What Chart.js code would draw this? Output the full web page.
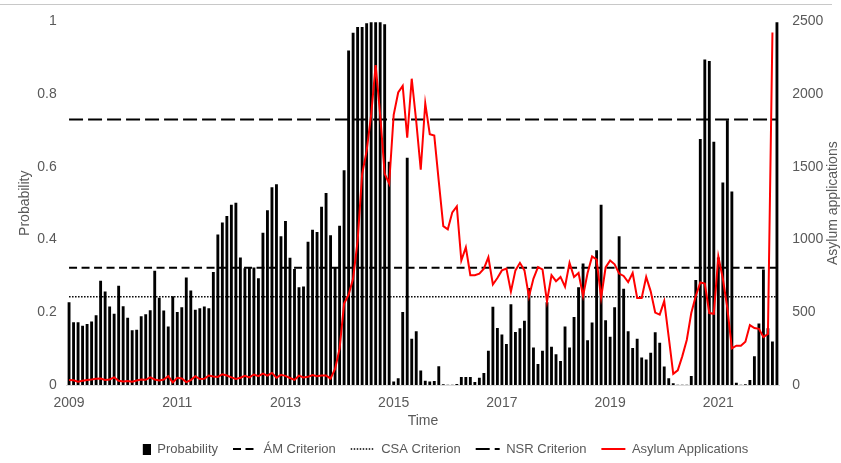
<!DOCTYPE html>
<html lang="en">
<head>
<meta charset="UTF-8">
<title>Probability and asylum applications</title>
<style>
    body {
        margin: 0;
        background: #fff;
    }
    .wrap {
        position: relative;
        width: 841px;
        height: 463px;
    }
    .topline {
        position: absolute;
        left: 0;
        top: 4px;
        width: 832px;
        height: 1px;
        background: #c8c8c8;
    }
</style>
</head>
<body>
<div class="wrap">
    <div class="topline"></div>
    <canvas id="chart"></canvas>
</div>

<script src="https://cdn.jsdelivr.net/npm/chart.js"></script>
<script>
    // monthly categories, Jan 2009 .. Feb 2022
    const startYear = 2009;
    const monthCount = 158;
    const months = Array.from({ length: monthCount }, (_, i) =>
        (startYear + Math.floor(i / 12)) + '-' + String(i % 12 + 1).padStart(2, '0'));

    const probability = [
        0.227, 0.172, 0.172, 0.162, 0.167, 0.174, 0.191, 0.286, 0.256, 0.215,
        0.195, 0.272, 0.216, 0.184, 0.150, 0.151, 0.188, 0.194, 0.205, 0.313,
        0.239, 0.204, 0.160, 0.243, 0.200, 0.213, 0.295, 0.259, 0.206, 0.210,
        0.215, 0.210, 0.310, 0.413, 0.446, 0.464, 0.495, 0.500, 0.350, 0.320,
        0.322, 0.322, 0.293, 0.418, 0.480, 0.543, 0.551, 0.408, 0.450, 0.349,
        0.318, 0.268, 0.270, 0.393, 0.426, 0.420, 0.489, 0.527, 0.411, 0.322,
        0.437, 0.590, 0.919, 0.968, 0.984, 0.984, 0.994, 0.997, 0.997, 0.997,
        0.991, 0.613, 0.009, 0.018, 0.200, 0.624, 0.126, 0.147, 0.039, 0.011,
        0.009, 0.010, 0.051, 0.001, 0, 0, 0.002, 0.021, 0.021, 0.021,
        0.007, 0.019, 0.032, 0.093, 0.214, 0.156, 0.138, 0.112, 0.221, 0.145,
        0.155, 0.176, 0.266, 0.102, 0.057, 0.093, 0.227, 0.104, 0.084, 0.065,
        0.160, 0.102, 0.186, 0.268, 0.333, 0.122, 0.171, 0.370, 0.495, 0.177,
        0.132, 0.213, 0.408, 0.264, 0.147, 0.101, 0.126, 0.075, 0.069, 0.088,
        0.144, 0.115, 0.050, 0.018, 0.004, 0, 0, 0, 0.024, 0.288,
        0.676, 0.894, 0.890, 0.668, 0.350, 0.556, 0.727, 0.531, 0.005, 0,
        0.001, 0.013, 0.078, 0.168, 0.317, 0.155, 0.119, 0.997
    ];

    const asylumApplications = [
        34, 33, 23, 29, 34, 38, 43, 45, 34, 38,
        52, 29, 24, 27, 23, 31, 38, 36, 52, 38,
        31, 38, 61, 18, 50, 45, 20, 34, 61, 41,
        43, 65, 59, 56, 74, 65, 52, 41, 50, 63,
        52, 72, 61, 79, 65, 83, 50, 70, 63, 48,
        35, 64, 52, 56, 68, 61, 65, 65, 45, 110,
        250, 560, 620, 732, 991, 1450, 1610, 1858, 2200, 1858,
        1453, 1385, 1858, 2011, 2056, 1700, 2106, 1813, 1480, 1937,
        1725, 1715, 1400, 1092, 1070, 1187, 1228, 856, 946, 755,
        755, 766, 800, 878, 691, 736, 788, 800, 642, 788,
        840, 788, 608, 732, 811, 795, 574, 755, 714, 743,
        676, 840, 743, 770, 612, 770, 884, 863, 600, 808,
        856, 830, 766, 750, 707, 770, 599, 599, 743, 644,
        498, 484, 577, 330, 77, 101, 197, 310, 495, 612,
        705, 698, 495, 490, 884, 732, 529, 252, 270, 270,
        298, 412, 392, 386, 329, 351, 2423, null
    ];

    const amCriterion = 0.3225;
    const csaCriterion = 0.243;
    const nsrCriterion = 0.73;

    const probTicks = [0, 0.2, 0.4, 0.6, 0.8, 1];
    const asylumTicks = [0, 500, 1000, 1500, 2000, 2500];

    const grey = '#595959';
    Chart.defaults.font.family = '"Liberation Sans", Arial, sans-serif';

    // little black block for the "Probability" legend entry
    const barSwatch = document.createElement('canvas');
    barSwatch.width = 24;
    barSwatch.height = 11;
    barSwatch.getContext('2d').fillRect(16, 0, 8, 11);

    const rightTitle = {
        id: 'rightTitle',
        afterDraw(chart) {
            const { ctx, chartArea } = chart;
            ctx.save();
            ctx.translate(chart.width - 8, (chartArea.top + chartArea.bottom) / 2);
            ctx.rotate(-Math.PI / 2);
            ctx.font = '14px "Liberation Sans", Arial, sans-serif';
            ctx.fillStyle = grey;
            ctx.textAlign = 'center';
            ctx.textBaseline = 'middle';
            ctx.fillText('Asylum applications', 0, 0);
            ctx.restore();
        }
    };

    // the legend sits a bit right of centre in the original
    const legendShift = {
        id: 'legendShift',
        afterLayout(chart) {
            chart.legend.left += 17;
            chart.legend.right += 17;
        }
    };

    new Chart(document.getElementById('chart'), {
        type: 'bar',
        data: {
            labels: months,
            datasets: [
                {
                    type: 'bar',
                    label: 'Probability',
                    data: probability,
                    backgroundColor: '#000',
                    borderWidth: 0,
                    barThickness: 2.2,
                    yAxisID: 'y',
                    order: 3
                },
                {
                    type: 'line',
                    label: 'ÁM Criterion',
                    data: months.map(() => amCriterion),
                    borderColor: '#000',
                    borderWidth: 2,
                    borderDash: [8, 4.5],
                    pointRadius: 0,
                    yAxisID: 'y',
                    order: 1
                },
                {
                    type: 'line',
                    label: 'CSA Criterion',
                    data: months.map(() => csaCriterion),
                    borderColor: '#000',
                    borderWidth: 1.5,
                    borderDash: [1.5, 1.5],
                    pointRadius: 0,
                    yAxisID: 'y',
                    order: 1
                },
                {
                    type: 'line',
                    label: 'NSR Criterion',
                    data: months.map(() => nsrCriterion),
                    borderColor: '#000',
                    borderWidth: 2,
                    borderDash: [14, 5],
                    pointRadius: 0,
                    yAxisID: 'y',
                    order: 1
                },
                {
                    type: 'line',
                    label: 'Asylum Applications',
                    data: asylumApplications,
                    borderColor: '#ff0000',
                    borderWidth: 2,
                    pointRadius: 0,
                    tension: 0,
                    yAxisID: 'y1',
                    order: 0
                }
            ]
        },
        options: {
            responsive: true,
            maintainAspectRatio: false,
            animation: false,
            layout: { padding: { top: 15, left: 0, right: 0, bottom: -2.5 } },
            plugins: {
                tooltip: { enabled: false },
                legend: {
                    position: 'bottom',
                    labels: {
                        usePointStyle: true,
                        pointStyleWidth: 24,
                        boxHeight: 13,
                        padding: 15,
                        color: grey,
                        font: { size: 13 },
                        generateLabels: (chart) => chart.data.datasets.map((ds, i) => ({
                            text: ds.label,
                            datasetIndex: i,
                            hidden: false,
                            fontColor: grey,
                            fillStyle: ds.backgroundColor || ds.borderColor,
                            strokeStyle: ds.borderColor,
                            lineWidth: ds.type === 'bar' ? 0 : ds.borderWidth,
                            lineDash: ds.borderDash || [],
                            pointStyle: ds.type === 'bar' ? barSwatch : 'line'
                        }))
                    }
                }
            },
            scales: {
                x: {
                    grid: { display: false, drawTicks: false },
                    border: { display: true, color: '#d9d9d9' },
                    ticks: {
                        autoSkip: false,
                        maxRotation: 0,
                        padding: 10,
                        color: grey,
                        font: { size: 14 },
                        callback: function (v) {
                            const lab = this.getLabelForValue(v);
                            const yr = Number(lab.slice(0, 4));
                            return lab.endsWith('-01') && yr % 2 === 1 ? String(yr) : '';
                        }
                    },
                    title: {
                        display: true,
                        text: 'Time',
                        color: grey,
                        font: { size: 14 },
                        padding: { top: 0, bottom: -2 }
                    },
                    afterFit: (s) => { s.height = 42.5; }
                },
                y: {
                    position: 'left',
                    min: 0,
                    max: 1,
                    afterBuildTicks: (s) => { s.ticks = probTicks.map(v => ({ value: v })); },
                    grid: { display: false, drawTicks: false },
                    border: { display: false },
                    ticks: { padding: 10, color: grey, font: { size: 14 }, callback: v => String(v) },
                    title: {
                        display: true,
                        text: 'Probability',
                        color: grey,
                        font: { size: 14 },
                        padding: { top: 17, bottom: 0 }
                    },
                    afterFit: (s) => { s.width = 66.8; }
                },
                y1: {
                    position: 'right',
                    min: 0,
                    max: 2500,
                    afterBuildTicks: (s) => { s.ticks = asylumTicks.map(v => ({ value: v })); },
                    grid: { display: false, drawTicks: false },
                    border: { display: false },
                    ticks: { padding: 13, color: grey, font: { size: 14 }, callback: v => String(v) },
                    afterFit: (s) => { s.width = 61.8; }
                }
            }
        },
        plugins: [rightTitle, legendShift]
    });
</script>
</body>
</html>
